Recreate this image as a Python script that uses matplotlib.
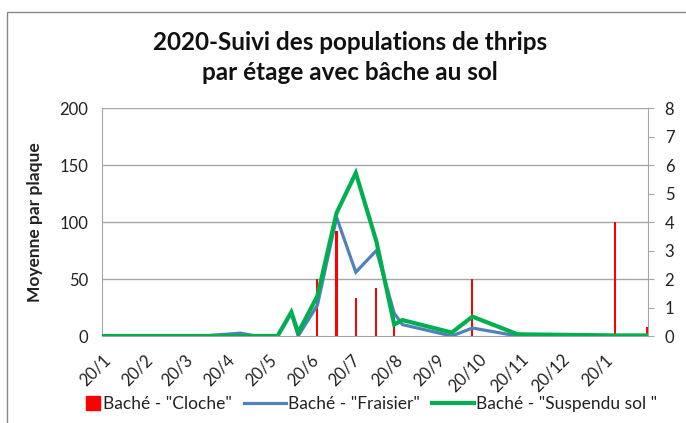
import numpy as np
import pandas as pd
import matplotlib
matplotlib.use("Agg")
import matplotlib.pyplot as plt
import matplotlib.dates as mdates
import matplotlib.transforms as mtransforms
from matplotlib.lines import Line2D
from matplotlib.patches import Rectangle, Patch
from matplotlib.legend_handler import HandlerPatch

plt.rcParams['font.family'] = ['Lato', 'DejaVu Sans']

# sampling dates (day/month axis labels)
dates = ["2020-01-20", "2020-02-20", "2020-03-20", "2020-04-02", "2020-04-30",
         "2020-05-11", "2020-05-27", "2020-06-06", "2020-06-11", "2020-06-25",
         "2020-07-09", "2020-07-23", "2020-08-07", "2020-08-20", "2020-08-26",
         "2020-10-01", "2020-10-16", "2020-11-18", "2021-01-28", "2021-02-20"]
# Baché - "Fraisier" (left axis)
fraisier = [0, 0, 0, 0, 2.5, 0, 0, 20, 0, 27, 104, 56, 75, 20, 10, 0, 7, 0, 0, 0]
# Baché - "Suspendu sol " (left axis)
suspendu = [0, 0, 0, 0, 0, 0, 0, 21, 3, 35, 108, 143, 83, 10, 14, 3, 17, 1.5, 0.5, 0.5]
# Baché - "Cloche" (right axis, bars)
cloche = [0, 0, 0, 0, 0, 0, 0, 0, 0, 2, 3.67, 1.33, 1.67, 0.67, 0, 0, 2, 0, 4, 0.33]

# axis ticks on the 20th of each month
tick_dates = ["2020-01-20", "2020-02-20", "2020-03-20", "2020-04-20", "2020-05-20",
              "2020-06-20", "2020-07-20", "2020-08-20", "2020-09-20", "2020-10-20",
              "2020-11-20", "2020-12-20", "2021-01-20"]

d = pd.to_datetime(dates)

W, H = 686, 423
fig = plt.figure(figsize=(W / 100, H / 100), dpi=100)
ax = fig.add_axes([102 / W, 1 - 336 / H, (648 - 102) / W, (336 - 108) / H])
ax2 = ax.twinx()

grid_c = '#a6a6a6'
txt_c = '#222222'

ax2.bar(d, cloche, width=1.6, color='#ff0000', zorder=1)
ax.set_zorder(ax2.get_zorder() + 1)
ax.patch.set_visible(False)

ax.plot(d, fraisier, color='#4f81bd', lw=2.3, solid_joinstyle='miter', zorder=3)
ax.plot(d, suspendu, color='#00b050', lw=3.0, solid_joinstyle='miter', zorder=4)

ax.set_xlim(pd.Timestamp("2020-01-20"), pd.Timestamp("2021-02-21"))
ax.set_ylim(0, 200)
ax2.set_ylim(0, 8)
ax.set_yticks([0, 50, 100, 150, 200])
ax2.set_yticks(range(0, 9))

for y in [50, 100, 150, 200]:
    ax2.axhline(y / 25, color=grid_c, lw=1.0, zorder=0)

ax.set_xticks(pd.to_datetime(tick_dates))
ax.xaxis.set_major_formatter(mdates.DateFormatter('%-d/%-m'))
shift = mtransforms.ScaledTranslation(6 / 100, 0, fig.dpi_scale_trans)
for lab in ax.get_xticklabels():
    lab.set_rotation(45)
    lab.set_ha('right')
    lab.set_rotation_mode('anchor')
    lab.set_transform(lab.get_transform() + shift)

for a in (ax, ax2):
    a.spines['top'].set_visible(False)
    a.tick_params(labelsize=12, colors=txt_c)
ax.spines['right'].set_visible(False)
ax.spines['left'].set_color(grid_c)
ax.spines['bottom'].set_color(grid_c)
ax2.spines['right'].set_color(grid_c)
ax2.spines['left'].set_visible(False)
ax2.spines['bottom'].set_visible(False)
ax.tick_params(axis='x', length=0, pad=11)
ax.tick_params(axis='y', length=0, pad=10)
ax2.tick_params(axis='y', length=4, color=grid_c, pad=8)

ax.set_ylabel("Moyenne par plaque", fontsize=12.5, fontweight='bold', color=txt_c, labelpad=12)

fig.text(0.51, 1 - 42 / H, "2020-Suivi des populations de thrips", ha='center', va='center',
         fontsize=17.5, fontweight='bold', color='#111111')
fig.text(0.51, 1 - 73 / H, "par étage avec bâche au sol", ha='center', va='center',
         fontsize=17.5, fontweight='bold', color='#111111')


def square_right(legend, orig_handle, xdescent, ydescent, width, height, fontsize):
    s = height * 1.2
    return Rectangle((-xdescent + width - s, -ydescent + (height - s) / 2), s, s)


handles = [Patch(color='#ff0000'),
           Line2D([], [], color='#4f81bd', lw=2.3),
           Line2D([], [], color='#00b050', lw=3.0)]
labels = ['Baché - "Cloche"', 'Baché - "Fraisier"', 'Baché - "Suspendu sol "']
fig.legend(handles, labels, loc='center', bbox_to_anchor=(0.522, 1 - 404 / H), ncol=3,
           frameon=False, fontsize=12.5, handlelength=2.4, handletextpad=0.15,
           columnspacing=0.7, labelcolor=txt_c,
           handler_map={Patch: HandlerPatch(patch_func=square_right)})

fig.patches.append(Rectangle((7 / W, -0.05), 1.0, 1 - 12 / H + 0.05, transform=fig.transFigure,
                             fill=False, edgecolor='#888888', lw=1.0))

fig.savefig("out.png", dpi=100)
